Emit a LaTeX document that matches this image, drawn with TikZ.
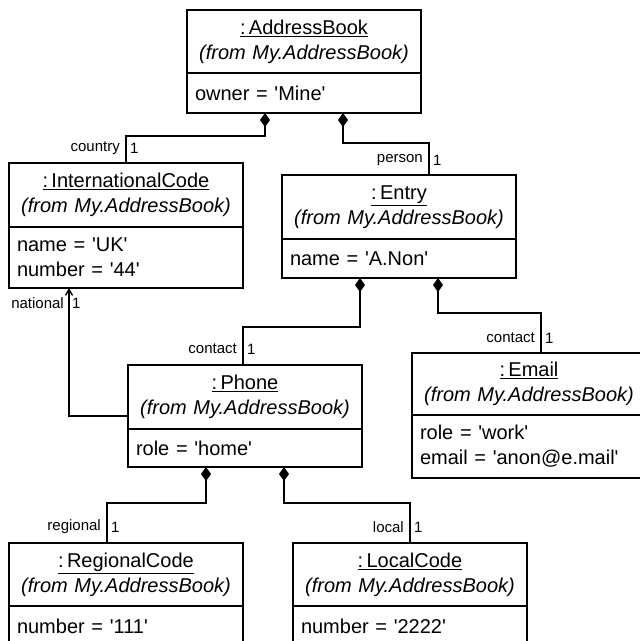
\documentclass[tikz,border=0pt]{standalone}
\usepackage{fontspec}
\setmainfont{Liberation Sans}
\usetikzlibrary{arrows.meta,calc}
% straight single quote for attribute values
\newcommand{\sq}{\textquotesingle}
\begin{document}
\begin{tikzpicture}[x=1pt,y=-1pt,
  every node/.style={font=\fontsize{20}{25}\selectfont},
  objhead/.style={draw, line width=1.4pt, anchor=north west, outer sep=0pt,
    minimum width=234pt, minimum height=63pt, inner sep=0pt,
    align=center, text width=230pt},
  objattr/.style={draw, line width=1.4pt, anchor=north west, outer sep=0pt,
    minimum width=234pt, inner xsep=8pt, inner ysep=0pt,
    align=left, text width=218pt},
  role/.style={font=\fontsize{15}{18}\selectfont, inner sep=0pt},
  link/.style={line width=1.4pt},
  comp/.style={link, {Diamond[length=14pt,width=10pt]}-},
  nav/.style={link, -{Straight Barb[length=6pt,width=7pt]}},
]
\useasboundingbox (0,0) rectangle (640,641);
\clip (0,0) rectangle (640,641);
\fill[white] (0,0) rectangle (640,641);

% AddressBook
\node[objhead] (ab) at (187,10) {\underline{:\,AddressBook}\\\textit{(from My.AddressBook)}};
\node[objattr, minimum height=40pt] (abA) at (ab.south west) {owner = \sq Mine\sq};

% InternationalCode
\node[objhead, minimum height=64pt] (ic) at (9,163) {\underline{:\,InternationalCode}\\\textit{(from My.AddressBook)}};
\node[objattr, minimum height=61pt] (icA) at (ic.south west) {name = \sq UK\sq\\number = \sq 44\sq};

% Entry
\node[objhead, minimum height=64pt] (en) at (282,175) {\underline{:\,Entry}\\\textit{(from My.AddressBook)}};
\node[objattr, minimum height=39pt] (enA) at (en.south west) {name = \sq A.Non\sq};

% Phone
\node[objhead, minimum height=64pt] (ph) at (128,365) {\underline{:\,Phone}\\\textit{(from My.AddressBook)}};
\node[objattr, minimum height=38pt] (phA) at (ph.south west) {role = \sq home\sq};

% Email
\node[objhead, minimum height=62pt] (em) at (412,353) {\underline{:\,Email}\\\textit{(from My.AddressBook)}};
\node[objattr, minimum height=63pt] (emA) at (em.south west) {role = \sq work\sq\\email = \sq anon@e.mail\sq};

% RegionalCode
\node[objhead] (rc) at (9,543) {\underline{:\,RegionalCode}\\\textit{(from My.AddressBook)}};
\node[objattr, minimum height=40pt] (rcA) at (rc.south west) {number = \sq 111\sq};

% LocalCode
\node[objhead] (lc) at (293,543) {\underline{:\,LocalCode}\\\textit{(from My.AddressBook)}};
\node[objattr, minimum height=40pt] (lcA) at (lc.south west) {number = \sq 2222\sq};

% Links: composition diamonds at the owning object
\draw[comp] ([xshift=78pt]abA.south west) -- ++(0,23) -| (ic.north) coordinate (e1);
\draw[comp] ([xshift=156pt]abA.south west) -- ++(0,30) -| ([xshift=147pt]en.north west) coordinate (e2);
\draw[comp] ([xshift=78pt]enA.south west) -- ++(0,49) -| ([xshift=115pt]ph.north west) coordinate (e3);
\draw[comp] ([xshift=156pt]enA.south west) -- ++(0,35) -| ([xshift=129pt]em.north west) coordinate (e4);
\draw[nav] ([yshift=-51pt]ph.north west) -| ([xshift=60pt]icA.south west) coordinate (e5);
\draw[comp] ([xshift=78pt]phA.south west) -- ++(0,36) -| ([xshift=98pt]rc.north west) coordinate (e6);
\draw[comp] ([xshift=156pt]phA.south west) -- ++(0,36) -| (lc.north) coordinate (e7);

% Role names and multiplicities
\node[role, anchor=east] (r1) at ([shift={(-6pt,15pt)}]e1) {country};
\node[role, anchor=west] (m1) at ([shift={(4pt,15pt)}]e1) {1};
\node[role, anchor=east] (r2) at ([shift={(-6pt,15pt)}]e2) {person};
\node[role, anchor=west] (m2) at ([shift={(4pt,15pt)}]e2) {1};
\node[role, anchor=east] (r3) at ([shift={(-6pt,16pt)}]e3) {contact};
\node[role, anchor=west] (m3) at ([shift={(4pt,16pt)}]e3) {1};
\node[role, anchor=east] (r4) at ([shift={(-6pt,15pt)}]e4) {contact};
\node[role, anchor=west] (m4) at ([shift={(4pt,15pt)}]e4) {1};
\node[role, anchor=east] (r5) at ([shift={(-5pt,-15pt)}]e5) {national};
\node[role, anchor=west] (m5) at ([shift={(3pt,-15pt)}]e5) {1};
\node[role, anchor=east] (r6) at ([shift={(-6pt,16pt)}]e6) {regional};
\node[role, anchor=west] (m6) at ([shift={(4pt,16pt)}]e6) {1};
\node[role, anchor=east] (r7) at ([shift={(-6pt,16pt)}]e7) {local};
\node[role, anchor=west] (m7) at ([shift={(4pt,16pt)}]e7) {1};
\end{tikzpicture}
\end{document}
